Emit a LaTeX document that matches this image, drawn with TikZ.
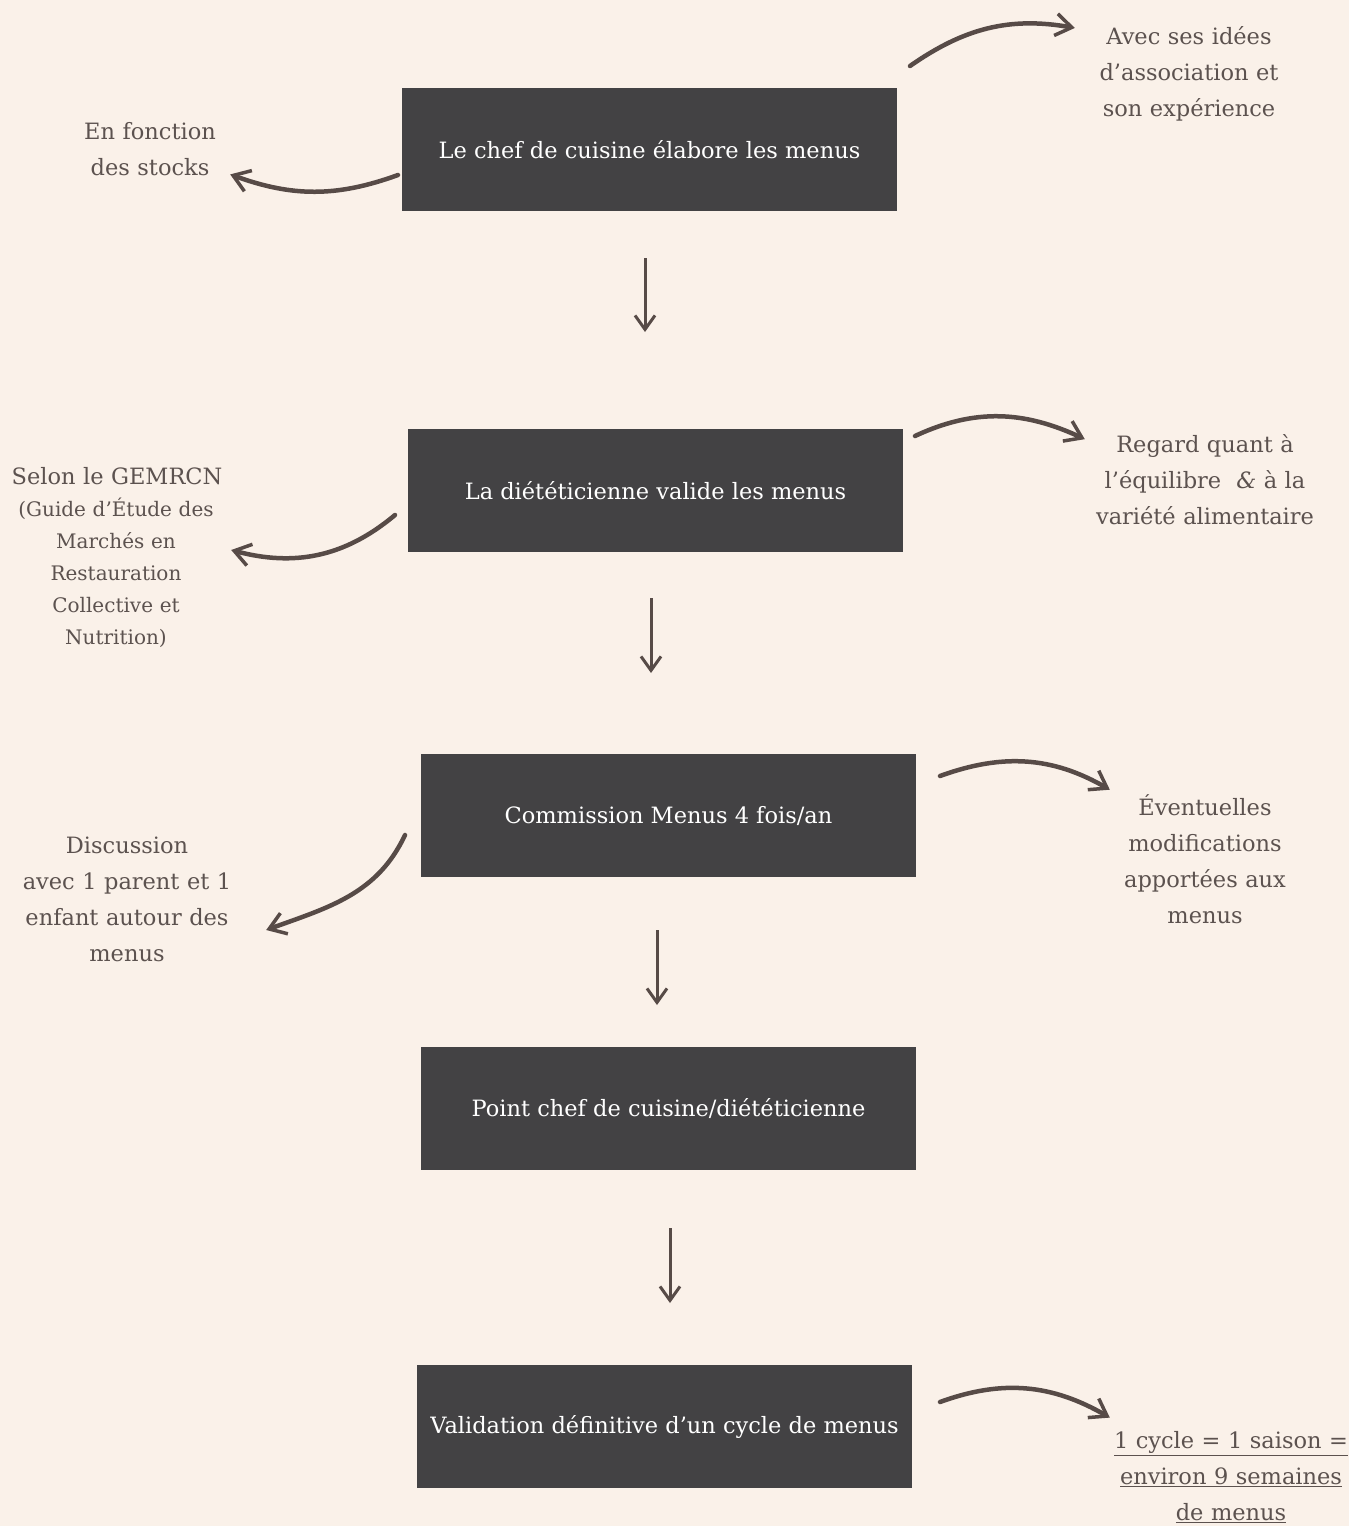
\documentclass[tikz,border=0pt]{standalone}
\usepackage{fontspec}
\setmainfont{DejaVu Serif}
\definecolor{parchment}{HTML}{FAF1E9}
\definecolor{charcoal}{HTML}{434244}
\definecolor{cocoa}{HTML}{5C524F}
\definecolor{umber}{HTML}{574B47}
\usetikzlibrary{arrows.meta}
\usetikzlibrary{calc}
\usetikzlibrary{positioning}

\begin{document}
\begin{tikzpicture}[%
    x=1pt,y=1pt,
    stepbox/.style={%
      fill=charcoal,
      text=white,
      minimum width=495pt,
      minimum height=123pt,
      inner sep=0pt,
      outer sep=0pt,
      font=\fontsize{22.5}{36}\selectfont,
    },
    note/.style={%
      cocoa,
      align=center,
      text width=230pt,
      inner sep=0pt,
      font=\fontsize{22.5}{36}\selectfont,
    },
    flow/.style={%
      umber,
      line width=3pt,
      -{Straight Barb[length=14pt,width=20pt,line width=3pt]},
    },
    swirl/.style={%
      umber,
      line width=4.5pt,
      line cap=round,
      -{Straight Barb[length=16pt,width=22pt,line width=3.5pt]},
    },
  ]
  \useasboundingbox [fill=parchment] (0,0) rectangle (1349,-1526);

  % main steps
  \node [stepbox] (chef) at (649.5,-149.5) {Le chef de cuisine élabore les menus};
  \node [stepbox,below=218pt of chef,xshift=6pt] (diet) {La diététicienne valide les menus};
  \node [stepbox,below=202pt of diet,xshift=13pt] (comm) {Commission Menus 4 fois/an};
  \node [stepbox,below=170pt of comm] (point) {Point chef de cuisine/diététicienne};
  \node [stepbox,below=195pt of point,xshift=-4pt] (valid) {Validation définitive d'un cycle de menus};

  % side notes
  \node [note] (avec) at (1189,-74) {Avec ses idées\\d'association et\\son expérience};
  \node [note] (stocks) at (150,-149) {En fonction\\des stocks};
  \node [note] (regard) at (1205,-480) {Regard quant à\\l'équilibre \ \textit{\&} à la\\variété alimentaire};
  \node [note] (gemrcn) at (117,-476) {Selon le GEMRCN};
  \node [note,font=\fontsize{20}{32}\selectfont] (guide) at (116,-573)
    {(Guide d'Étude des\\Marchés en\\Restauration\\Collective et\\Nutrition)};
  \node [note] (even) at (1205,-859) {Éventuelles\\modifications\\apportées aux\\menus};
  \node [note] (discussion) at (127,-899) {Discussion\\avec 1 parent et 1\\enfant autour des\\menus};
  \node [note,text width=250pt] (cycle) at (1231,-1477)
    {\underline{1 cycle = 1 saison =}\\\underline{environ 9 semaines}\\\underline{de menus}};

  % down arrows
  \draw [flow] ($(chef.south)+(-4.5,-47)$) -- ($(diet.north)+(-10.5,97)$);
  \draw [flow] ($(diet.south)+(-4.5,-46)$) -- ($(comm.north)+(-17.5,81)$);
  \draw [flow] ($(comm.south)+(-11.5,-53)$) -- ($(point.north)+(-11.5,42)$);
  \draw [flow] ($(point.south)+(1.5,-58)$) -- ($(valid.north)+(5.5,62)$);

  % curved arrows
  \draw [swirl] ($(chef.north east)+(13,22)$) to[out=35,in=170] ($(avec.north west)+(1,-1.5)$);
  \draw [swirl] ($(chef.west)+(-4,-25.5)$) to[out=200,in=-20] ($(stocks.south east)+(-35,1.5)$);
  \draw [swirl] ($(diet.north east)+(12,-7)$) to[out=25,in=155] ($(regard.north west)+(-5,-4.5)$);
  \draw [swirl] ($(diet.west)+(-13,-24.5)$) to[out=220,in=-15] ($(guide.east)+(0,23)$);
  \draw [swirl] ($(comm.north east)+(24,-22)$) to[out=20,in=150] ($(even.north west)+(20,4.5)$);
  \draw [swirl] ($(comm.west)+(-16,-19.5)$) to[out=245,in=20] ($(discussion.east)+(24,-31)$);
  \draw [swirl] ($(valid.north east)+(28,-37)$) to[out=20,in=150] ($(cycle.north west)+(4,13.5)$);
\end{tikzpicture}
\end{document}
